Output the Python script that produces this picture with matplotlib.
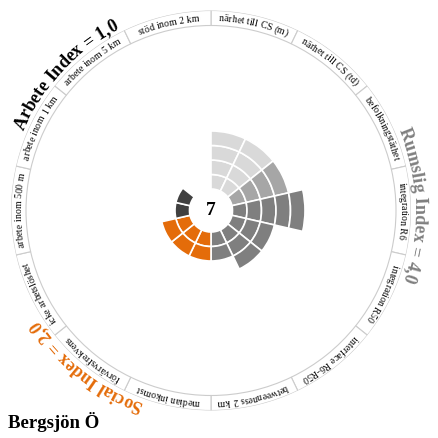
import matplotlib
matplotlib.use('Agg')
import matplotlib.pyplot as plt
from matplotlib.font_manager import FontProperties
import numpy as np

# data
labels = ["närhet till CS (m)", "närhet till CS (td)", "befolkningstäthet", "integration R6",
          "integration R50", "interface R6-R50", "betweenness 2 km", "median inkomst",
          "förvärvsfrekvens", "icke arbetslöshet", "arbete inom 500 m", "arbete inom 1 km",
          "arbete inom 5 km", "stöd inom 2 km"]
values = [4, 4, 4, 5, 3, 3, 2, 2, 2, 2, 1, 1, 0, 0]
bar_colors = ['#d9d9d9', '#d9d9d9', '#a6a6a6', '#7f7f7f', '#7f7f7f', '#7f7f7f', '#7f7f7f',
              '#e46c0a', '#e46c0a', '#e46c0a', '#404040', '#404040', '#404040', '#404040']
group_titles = ["Rumslig Index = 4,0", "Social Index = 2,0", "Arbete Index = 1,0"]
group_span = [(0, 7), (7, 10), (10, 14)]
group_colors = ['#808080', '#e46c0a', '#000000']
center_value = "7"
place = "Bergsjön Ö"

W = 438
fig = plt.figure(figsize=(4.38, 4.38), dpi=100)
cx, cy, R = 211, 210.5, 200  # pixels, from top-left
ax = fig.add_axes([(cx - R) / W, (W - cy - R) / W, 2 * R / W, 2 * R / W], projection='polar')
ax.set_theta_zero_location('N')
ax.set_theta_direction(-1)
ax.set_ylim(0, R)
ax.axis('off')

n = len(labels)
width = 2 * np.pi / n
theta = (np.arange(n) + 0.5) * width

# stacked level bars
r0, step = 21.5, 14.5
for i in range(n):
    for k in range(values[i]):
        ax.bar(theta[i], step, width=width, bottom=r0 + k * step, color=bar_colors[i],
               edgecolor='white', linewidth=1.2)

# outer label ring
ax.bar(theta, 15, width=width, bottom=185, color='white', edgecolor='#cccccc', linewidth=0.8)

serif = ['Liberation Serif', 'DejaVu Serif']
renderer = fig.canvas.get_renderer()


def text_width(s, fp):
    w, h, d = renderer.get_text_width_height_descent(s, fp, ismath=False)
    return w


def curved(text, ang, r, fp, color):
    total = text_width(text, fp)
    a0 = ang - total / r / 2
    for i, ch in enumerate(text):
        if ch == ' ':
            continue
        right = text_width(text[:i + 1], fp)
        a = a0 + (right - text_width(ch, fp) / 2) / r
        ax.text(a, r, ch, fontproperties=fp, color=color, rotation=-np.degrees(a),
                rotation_mode='anchor', ha='center', va='baseline')


fp_label = FontProperties(family=serif, size=7)
for i in range(n):
    curved(labels[i], theta[i], 189.5, fp_label, '#000000')

# group titles, small angular nudges (degrees) to match the original placement
nudge = [-1.5, 0, 4.5]
fp_title = FontProperties(family=serif, size=13, weight='bold')
for title, (s, e), col, d in zip(group_titles, group_span, group_colors, nudge):
    curved(title, (s + e) / 2 * width + np.radians(d), 203.5, fp_title, col)

ax.text(0, 0, center_value, ha='center', va='center', fontsize=14, fontweight='bold',
        family=serif)
fig.text(8 / W, 1 - 428 / W, place, fontsize=13.5, fontweight='bold', family=serif,
         va='baseline', ha='left')

fig.savefig('out.png', dpi=100)
